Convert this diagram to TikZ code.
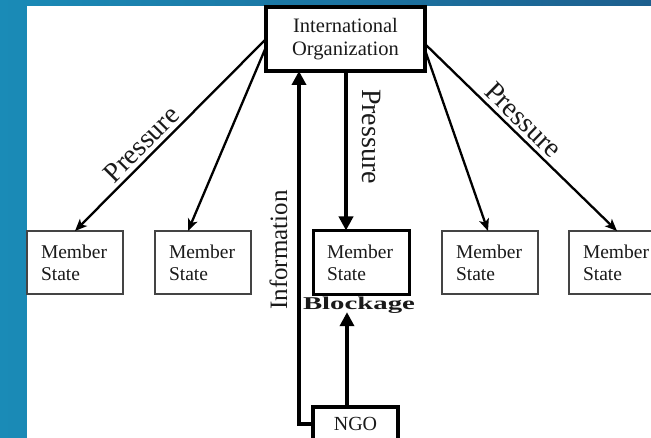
\documentclass[tikz,border=0pt]{standalone}
\usepackage{fontspec}
\setmainfont{Liberation Serif}
\newfontfamily\tnr{Liberation Serif}
\usetikzlibrary{arrows.meta,shapes.geometric}
\definecolor{bgleft}{HTML}{1A8BB7}
\definecolor{bgright}{HTML}{1D5F8E}
\definecolor{boxgray}{HTML}{444444}
\definecolor{txt}{HTML}{1A1A1A}
\tikzset{
  msbox/.style={draw=boxgray, line width=1.3pt, fill=white, text=txt,
    text width=68pt, align=left, inner xsep=14pt, inner ysep=0pt,
    minimum height=63pt, outer sep=0pt,
    font=\tnr\fontsize{19.5}{22}\selectfont},
  thickbox/.style={draw=black, line width=3.2pt, fill=white, text=txt,
    align=center, inner sep=0pt, outer sep=0pt},
  thinarrow/.style={draw=black, line width=2.3pt,
    -{Stealth[length=12pt,width=10pt,inset=3pt]}},
  thickarrow/.style={draw=black, line width=4pt,
    -{Triangle[length=14pt,width=14pt]}},
  biglabel/.style={text=txt, inner sep=0pt, font=\tnr\fontsize{28}{30}\selectfont},
}
\begin{document}
\begin{tikzpicture}[x=1pt,y=-1pt]
\useasboundingbox (0,0) rectangle (651,438);
\shade[left color=bgleft, right color=bgright] (0,0) rectangle (651,438);
\fill[white] (27,6) rectangle (651,438);

% nodes
\node[thickbox, minimum width=159pt, minimum height=64pt,
      font=\tnr\fontsize{20.5}{23}\selectfont] (io) at (345.5,39) {International\\Organization};
\node[msbox] (ms1) at (75,262.5) {Member\\State};
\node[msbox] (ms2) at (203,262.5) {Member\\State};
\node[msbox, draw=black, line width=3pt, minimum height=64pt] (ms3) at (361,262.5) {Member\\State};
\node[msbox] (ms4) at (490,262.5) {Member\\State};
\node[msbox] (ms5) at (617,262.5) {Member\\State};
\node[thickbox, minimum width=85pt, minimum height=34pt,
      font=\tnr\fontsize{20}{22}\selectfont] (ngo) at (355.5,424) {NGO};
\node[anchor=base, inner sep=0pt, text=txt,
      font=\tnr\fontsize{18}{20}\selectfont\bfseries] (blk) at (359,310)
      {\scalebox{1.6}[1]{Blockage}};

\coordinate (pc) at (346,0);
\coordinate (nc) at (347,0);
\coordinate (ic) at (299,0);

% diagonal pressure arrows
\draw[thinarrow] (io.west) -- node[biglabel, sloped, above=4pt, pos=0.6] {Pressure} (ms1.north);
\draw[thinarrow] ([yshift=-8pt]io.west) -- ([xshift=-15pt]ms2.north);
\draw[thinarrow] ([yshift=-5pt]io.east) -- node[biglabel, sloped, above=4pt, pos=0.46] {Pressure} (ms5.north);
\draw[thinarrow] ([yshift=-11pt]io.east) -- ([xshift=-2pt]ms4.north);

% central pressure
\draw[thickarrow] (io.south -| pc) -- (ms3.north -| pc);
\node[biglabel, rotate=-90, anchor=base] (plab) at (362,136.5) {Pressure};

% information
\draw[thickarrow] (ngo.west) -| (io.south -| ic);
\node[biglabel, rotate=90, anchor=base, font=\tnr\fontsize{25}{27}\selectfont] (ilab) at (287,250) {Information};

% NGO to blockage
\draw[thickarrow] (ngo.north -| nc) -- ([yshift=2pt]blk.south -| nc);
\end{tikzpicture}
\end{document}
